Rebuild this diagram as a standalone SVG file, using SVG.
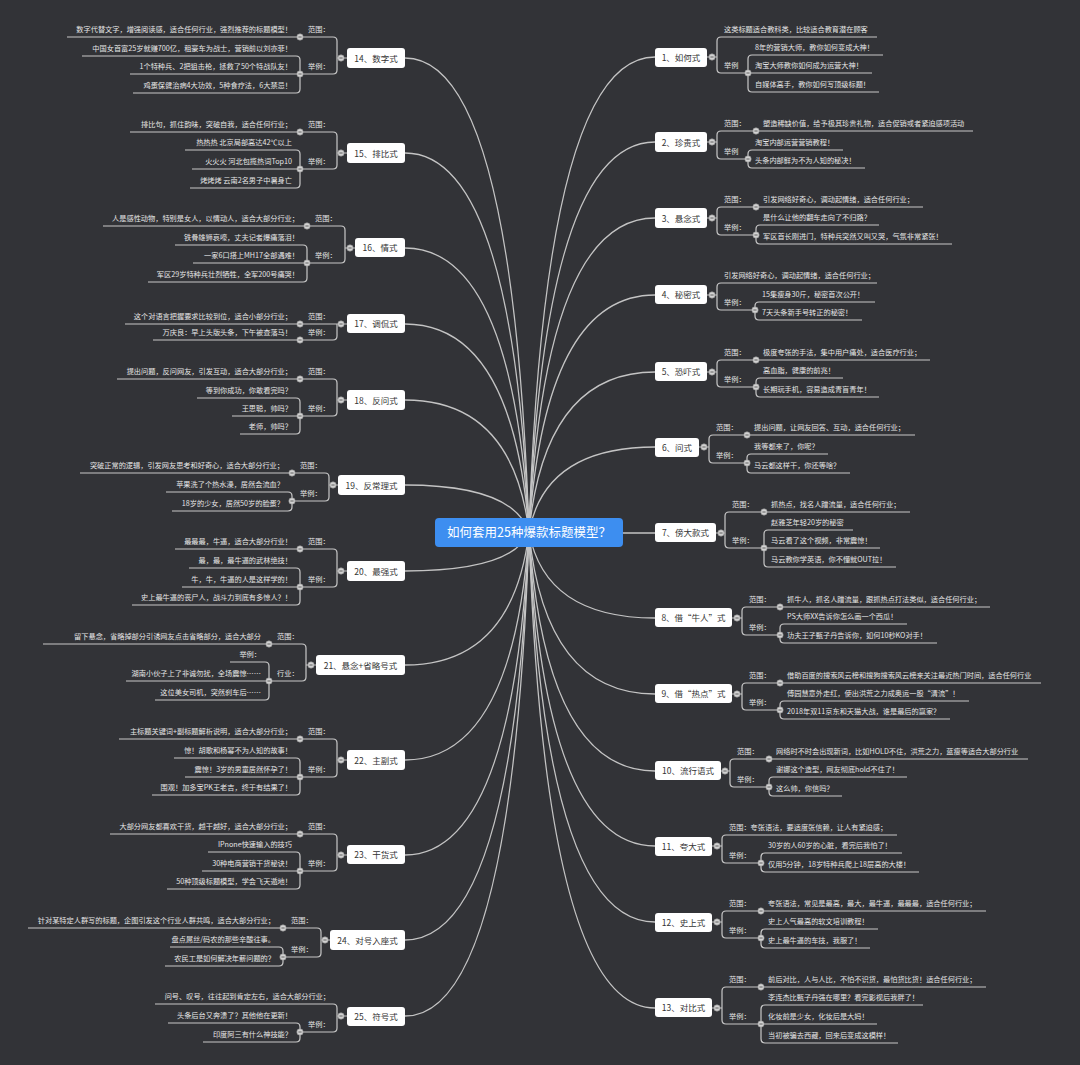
<svg xmlns="http://www.w3.org/2000/svg" xmlns:xlink="http://www.w3.org/1999/xlink" width="1080" height="1065" viewBox="0 0 1080 1065">
<defs>
<style>
.ln{fill:none;stroke:#c8c8c8;stroke-width:1.2}
.cn{fill:none;stroke:#c4c4c4;stroke-width:1.3}
.t{font-family:"Noto Sans CJK SC","Noto Sans",sans-serif;font-size:7.2px;fill:#e6e6e6}
.e{text-anchor:end}
.box{fill:#ffffff}
.bt{font-family:"Noto Sans CJK SC","Noto Sans",sans-serif;font-size:8.5px;fill:#333333;text-anchor:middle}
.ct{font-family:"Noto Sans CJK SC","Noto Sans",sans-serif;font-size:12.5px;fill:#ffffff;text-anchor:middle}
</style>
<g id="d"><circle r="3.2" fill="#d2d2d2" stroke="#8a8a8a" stroke-width="0.6"/><path d="M-1.6 0H1.6" stroke="#555" stroke-width="0.9"/></g>
</defs>
<rect width="1080" height="1065" fill="#323337"/>

<g id="connectors">
<path class="cn" d="M529 532 Q545 57 655 57"/>
<path class="cn" d="M529 532 Q545 142 655 142"/>
<path class="cn" d="M529 532 Q545 218 655 218"/>
<path class="cn" d="M529 532 Q545 295 655 295"/>
<path class="cn" d="M529 532 Q545 372 655 372"/>
<path class="cn" d="M529 532 Q545 447 655 447"/>
<path class="cn" d="M529 532 Q545 533 655 533"/>
<path class="cn" d="M529 532 Q545 618 655 618"/>
<path class="cn" d="M529 532 Q545 694 655 694"/>
<path class="cn" d="M529 532 Q545 771 655 771"/>
<path class="cn" d="M529 532 Q545 846 655 846"/>
<path class="cn" d="M529 532 Q545 922 655 922"/>
<path class="cn" d="M529 532 Q545 1008 655 1008"/>
<path class="cn" d="M529 532 Q513 58 405 58"/>
<path class="cn" d="M529 532 Q513 153 405 153"/>
<path class="cn" d="M529 532 Q513 248 405 248"/>
<path class="cn" d="M529 532 Q513 324 405 324"/>
<path class="cn" d="M529 532 Q513 400 405 400"/>
<path class="cn" d="M529 532 Q513 485 405 485"/>
<path class="cn" d="M529 532 Q513 571 405 571"/>
<path class="cn" d="M529 532 Q513 665 405 665"/>
<path class="cn" d="M529 532 Q513 760 405 760"/>
<path class="cn" d="M529 532 Q513 855 405 855"/>
<path class="cn" d="M529 532 Q513 940 405 940"/>
<path class="cn" d="M529 532 Q513 1016 405 1016"/>
</g>

<g id="center">
<rect x="435" y="518" width="188" height="29" rx="4" fill="#3d8ef0"/>
<text class="ct" x="529" y="537">如何套用25种爆款标题模型？</text>
</g>

<!-- right side -->
<g id="n1">
<path class="ln" d="M707 57H717 M717 57V41Q717 37 721 37H877 M717 57V69Q717 73 721 73H872 M748 73V59Q748 55 752 55H883 M748 73V88Q748 92 752 92H879"/>
<rect class="box" x="655" y="48" width="52" height="19" rx="3"/>
<text class="bt" x="681" y="60.5">1、如何式</text>
<text class="t" x="724" y="32">这类标题适合教科类，比较适合教育潜在顾客</text>
<text class="t" x="724" y="68">举例</text>
<text class="t" x="755" y="50">8年的营销大师，教你如何变成大神！</text>
<text class="t" x="755" y="68">淘宝大师教你如何成为运营大神！</text>
<text class="t" x="755" y="87">自媒体高手，教你如何写顶级标题！</text>
<use href="#d" x="712" y="57"/><use href="#d" x="748" y="73"/>
</g>

<g id="n2">
<path class="ln" d="M707 142H717 M717 142V135Q717 131 721 131H973 M717 142V155Q717 159 721 159H748 M748 159V154Q748 150 752 150H843 M748 159V164Q748 168 752 168H865"/>
<rect class="box" x="655" y="132" width="52" height="20" rx="3"/>
<text class="bt" x="681" y="145.5">2、珍贵式</text>
<text class="t" x="724" y="126">范围：</text>
<text class="t" x="763" y="126">塑造稀缺价值，给予极其珍贵礼物，适合促销或者紧迫感项活动</text>
<text class="t" x="724" y="154">举例</text>
<text class="t" x="755" y="145">淘宝内部运营营销教程！</text>
<text class="t" x="755" y="163">头条内部鲜为不为人知的秘决！</text>
<use href="#d" x="712" y="142"/><use href="#d" x="756" y="131"/><use href="#d" x="748" y="159"/>
</g>

<g id="n3">
<path class="ln" d="M707 218H717 M717 218V211Q717 207 721 207H923 M717 218V231Q717 235 721 235H756 M756 235V229Q756 225 760 225H879 M756 235V240Q756 244 760 244H952"/>
<rect class="box" x="655" y="208" width="52" height="20" rx="3"/>
<text class="bt" x="681" y="221.5">3、悬念式</text>
<text class="t" x="724" y="202">范围：</text>
<text class="t" x="763" y="202">引发网络好奇心，调动起情绪，适合任何行业；</text>
<text class="t" x="724" y="230">举例：</text>
<text class="t" x="763" y="220">是什么让他的翻车走向了不归路？</text>
<text class="t" x="763" y="239">军区首长刚进门，特种兵突然又叫又哭，气氛非常紧张！</text>
<use href="#d" x="712" y="218"/><use href="#d" x="756" y="207"/><use href="#d" x="756" y="235"/>
</g>

<g id="n4">
<path class="ln" d="M707 295H717 M717 295V287Q717 283 721 283H877 M717 295V306Q717 310 721 310H755 M755 310V306Q755 302 759 302H875 M755 310V316Q755 320 759 320H862"/>
<rect class="box" x="655" y="285" width="52" height="19" rx="3"/>
<text class="bt" x="681" y="298">4、秘密式</text>
<text class="t" x="724" y="278">引发网络好奇心，调动起情绪，适合任何行业；</text>
<text class="t" x="724" y="305">举例：</text>
<text class="t" x="762" y="297">15集瘦身30斤，秘密首次公开！</text>
<text class="t" x="762" y="315">7天头条新手号转正的秘密！</text>
<use href="#d" x="712" y="295"/><use href="#d" x="755" y="310"/>
</g>

<g id="n5">
<path class="ln" d="M707 372H717 M717 372V364Q717 360 721 360H930 M717 372V383Q717 387 721 387H756 M756 387V382Q756 378 760 378H843 M756 387V393Q756 397 760 397H879"/>
<rect class="box" x="655" y="362" width="52" height="19" rx="3"/>
<text class="bt" x="681" y="375">5、恐吓式</text>
<text class="t" x="724" y="355">范围：</text>
<text class="t" x="763" y="355">极度夸张的手法，集中用户痛处，适合医疗行业；</text>
<text class="t" x="724" y="382">举例：</text>
<text class="t" x="763" y="373">高血脂，健康的前兆！</text>
<text class="t" x="763" y="392">长期玩手机，容易造成青盲青年！</text>
<use href="#d" x="712" y="372"/><use href="#d" x="756" y="360"/><use href="#d" x="756" y="387"/>
</g>

<g id="n6">
<path class="ln" d="M699 447H709 M709 447V439Q709 435 713 435H915 M709 447V459Q709 463 713 463H747 M747 463V458Q747 454 751 454H828 M747 463V469Q747 473 751 473H850"/>
<rect class="box" x="655" y="438" width="44" height="19" rx="3"/>
<text class="bt" x="677" y="450.5">6、问式</text>
<text class="t" x="716" y="430">范围：</text>
<text class="t" x="754" y="430">提出问题，让网友回答、互动，适合任何行业；</text>
<text class="t" x="716" y="458">举例：</text>
<text class="t" x="754" y="449">我等都来了，你呢？</text>
<text class="t" x="754" y="468">马云都这样干，你还等啥？</text>
<use href="#d" x="704" y="447"/><use href="#d" x="747" y="435"/><use href="#d" x="747" y="463"/>
</g>

<g id="n7">
<path class="ln" d="M716 533H725 M725 533V516Q725 512 729 512H910 M725 533V544Q725 548 729 548H880 M764 548V534Q764 530 768 530H853 M764 548V563Q764 567 768 567H896"/>
<rect class="box" x="655" y="523" width="61" height="19" rx="3"/>
<text class="bt" x="685.5" y="536">7、傍大款式</text>
<text class="t" x="732" y="507">范围：</text>
<text class="t" x="771" y="507">抓热点，找名人蹭流量，适合任何行业；</text>
<text class="t" x="732" y="543">举例：</text>
<text class="t" x="771" y="525">赵雅芝年轻20岁的秘密</text>
<text class="t" x="771" y="543">马云看了这个视频，非常震惊！</text>
<text class="t" x="771" y="562">马云教你学英语，你不懂就OUT拉！</text>
<use href="#d" x="721" y="533"/><use href="#d" x="764" y="512"/><use href="#d" x="764" y="548"/>
</g>

<g id="n8">
<path class="ln" d="M732 618H742 M742 618V611Q742 607 746 607H990 M742 618V631Q742 635 746 635H780 M780 635V628Q780 624 784 624H907 M780 635V639Q780 643 784 643H937"/>
<rect class="box" x="655" y="608" width="77" height="19" rx="3"/>
<text class="bt" x="693.5" y="621">8、借“牛人”式</text>
<text class="t" x="749" y="602">范围：</text>
<text class="t" x="787" y="602">抓牛人，抓名人蹭流量，跟抓热点打法类似，适合任何行业；</text>
<text class="t" x="749" y="630">举例：</text>
<text class="t" x="787" y="619">PS大师XX告诉你怎么画一个西瓜！</text>
<text class="t" x="787" y="638">功夫王子甄子丹告诉你，如何10秒KO对手！</text>
<use href="#d" x="737" y="618"/><use href="#d" x="780" y="607"/><use href="#d" x="780" y="635"/>
</g>

<g id="n9">
<path class="ln" d="M732 694H742 M742 694V687Q742 683 746 683H1041 M742 694V706Q742 710 746 710H780 M780 710V705Q780 701 784 701H969 M780 710V715Q780 719 784 719H950"/>
<rect class="box" x="655" y="684" width="77" height="19" rx="3"/>
<text class="bt" x="693.5" y="697">9、借“热点”式</text>
<text class="t" x="749" y="678">范围：</text>
<text class="t" x="787" y="678">借助百度的搜索风云榜和搜狗搜索风云榜来关注最近热门时间，适合任何行业</text>
<text class="t" x="749" y="705">举例：</text>
<text class="t" x="787" y="696">傅园慧意外走红，使出洪荒之力成奥运一股“清流”！</text>
<text class="t" x="787" y="714">2018年双11京东和天猫大战，谁是最后的赢家？</text>
<use href="#d" x="737" y="694"/><use href="#d" x="780" y="683"/><use href="#d" x="780" y="710"/>
</g>

<g id="n10">
<path class="ln" d="M721 771H730 M730 771V763Q730 759 734 759H1028 M730 771V783Q730 787 734 787H769 M769 787V781Q769 777 773 777H907 M769 787V792Q769 796 773 796H842"/>
<rect class="box" x="655" y="761" width="66" height="19" rx="3"/>
<text class="bt" x="688" y="774">10、流行语式</text>
<text class="t" x="737" y="754">范围：</text>
<text class="t" x="776" y="754">网络时不时会出现新词，比如HOLD不住，洪荒之力，蓝瘦等适合大部分行业</text>
<text class="t" x="737" y="782">举例：</text>
<text class="t" x="776" y="772">谢娜这个造型，网友彻底hold不住了！</text>
<text class="t" x="776" y="791">这么帅，你信吗？</text>
<use href="#d" x="725" y="771"/><use href="#d" x="769" y="759"/><use href="#d" x="769" y="787"/>
</g>

<g id="n11">
<path class="ln" d="M712 846H722 M722 846V839Q722 835 726 835H897 M722 846V859Q722 863 726 863H761 M761 863V857Q761 853 765 853H902 M761 863V868Q761 872 765 872H919"/>
<rect class="box" x="655" y="837" width="57" height="19" rx="3"/>
<text class="bt" x="683.5" y="849.5">11、夸大式</text>
<text class="t" x="729" y="830">范围：夸张语法，要适度张信赖，让人有紧迫感；</text>
<text class="t" x="729" y="858">举例：</text>
<text class="t" x="768" y="848">30岁的人60岁的心脏，看完后我怕了！</text>
<text class="t" x="768" y="867">仅用5分钟，18岁特种兵爬上18层高的大楼！</text>
<use href="#d" x="717" y="846"/><use href="#d" x="761" y="863"/>
</g>

<g id="n12">
<path class="ln" d="M712 922H722 M722 922V915Q722 911 726 911H986 M722 922V934Q722 938 726 938H761 M761 938V933Q761 929 765 929H878 M761 938V944Q761 948 765 948H870"/>
<rect class="box" x="655" y="913" width="57" height="19" rx="3"/>
<text class="bt" x="683.5" y="925.5">12、史上式</text>
<text class="t" x="729" y="906">范围：</text>
<text class="t" x="768" y="906">夸张语法，常见是最高，最大，最牛逼，最最最，适合任何行业；</text>
<text class="t" x="729" y="933">举例：</text>
<text class="t" x="768" y="924">史上人气最高的软文培训教程！</text>
<text class="t" x="768" y="943">史上最牛逼的车技，我服了！</text>
<use href="#d" x="717" y="922"/><use href="#d" x="761" y="911"/><use href="#d" x="761" y="938"/>
</g>

<g id="n13">
<path class="ln" d="M712 1008H722 M722 1008V991Q722 987 726 987H986 M722 1008V1020Q722 1024 726 1024H877 M761 1024V1009Q761 1005 765 1005H923 M761 1024V1039Q761 1043 765 1043H898"/>
<rect class="box" x="655" y="998" width="57" height="19" rx="3"/>
<text class="bt" x="683.5" y="1011">13、对比式</text>
<text class="t" x="729" y="982">范围：</text>
<text class="t" x="768" y="982">前后对比，人与人比，不怕不识货，最怕货比货！适合任何行业；</text>
<text class="t" x="729" y="1019">举例：</text>
<text class="t" x="768" y="1000">李连杰比甄子丹强在哪里？看完影视后我胖了！</text>
<text class="t" x="768" y="1019">化妆前是少女，化妆后是大妈！</text>
<text class="t" x="768" y="1038">当初被骗去西藏，回来后变成这模样！</text>
<use href="#d" x="717" y="1008"/><use href="#d" x="761" y="987"/><use href="#d" x="761" y="1024"/>
</g>

<!-- left side -->
<g id="n14">
<path class="ln" d="M347 58H337 M337 58V41Q337 37 333 37H67 M337 58V70Q337 74 333 74H130 M300 74V60Q300 56 296 56H82 M300 74V89Q300 93 296 93H133"/>
<rect class="box" x="347" y="48" width="58" height="20" rx="3"/>
<text class="bt" x="376" y="61.5">14、数字式</text>
<text class="t" x="308" y="32">范围：</text>
<text class="t e" x="292" y="32">数字代替文字，增强阅读感，适合任何行业，强烈推荐的标题模型！</text>
<text class="t" x="308" y="69">举例：</text>
<text class="t e" x="292" y="51">中国女首富25岁就赚700亿，租豪车为战士，营销前以刘亦菲！</text>
<text class="t e" x="292" y="69">1个特种兵、2把狙击枪，拯救了50个特战队友！</text>
<text class="t e" x="292" y="88">鸡蛋保健治病4大功效，5种食疗法，6大禁忌！</text>
<use href="#d" x="341" y="58"/><use href="#d" x="300" y="37"/><use href="#d" x="300" y="74"/>
</g>

<g id="n15">
<path class="ln" d="M347 153H337 M337 153V136Q337 132 333 132H130 M337 153V165Q337 169 333 169H192 M300 169V154Q300 150 296 150H185 M300 169V184Q300 188 296 188H190"/>
<rect class="box" x="347" y="143" width="58" height="20" rx="3"/>
<text class="bt" x="376" y="156.5">15、排比式</text>
<text class="t" x="308" y="127">范围：</text>
<text class="t e" x="292" y="127">排比句，抓住韵味，突破自我，适合任何行业；</text>
<text class="t" x="308" y="164">举例：</text>
<text class="t e" x="292" y="145">热热热 北京局部高达42℃以上</text>
<text class="t e" x="292" y="164">火火火 河北包揽热词Top10</text>
<text class="t e" x="292" y="183">烤烤烤 云南2名男子中暑身亡</text>
<use href="#d" x="341" y="153"/><use href="#d" x="300" y="132"/><use href="#d" x="300" y="169"/>
</g>

<g id="n16">
<path class="ln" d="M355 248H345 M345 248V230Q345 226 341 226H103 M345 248V259Q345 263 341 263H193 M307 263V249Q307 245 303 245H175 M307 263V278Q307 282 303 282H148"/>
<rect class="box" x="355" y="238" width="50" height="19" rx="3"/>
<text class="bt" x="380" y="251">16、情式</text>
<text class="t" x="315" y="221">范围：</text>
<text class="t e" x="299" y="221">人是感性动物，特别是女人，以情动人，适合大部分行业；</text>
<text class="t" x="315" y="258">举例：</text>
<text class="t e" x="299" y="240">铁骨雄狮哀嚎，丈夫记者爆痛落泪！</text>
<text class="t e" x="299" y="258">一家6口搭上MH17全部遇难！</text>
<text class="t e" x="299" y="277">军区29岁特种兵壮烈牺牲，全军200号痛哭！</text>
<use href="#d" x="350" y="248"/><use href="#d" x="307" y="226"/><use href="#d" x="307" y="263"/>
</g>

<g id="n17">
<path class="ln" d="M347 324H125 M337 324V336Q337 340 333 340H153"/>
<rect class="box" x="347" y="314" width="58" height="19" rx="3"/>
<text class="bt" x="376" y="327">17、调侃式</text>
<text class="t" x="308" y="319">范围：</text>
<text class="t e" x="292" y="319">这个对语言把握要求比较到位，适合小部分行业；</text>
<text class="t" x="308" y="335">举例：</text>
<text class="t e" x="292" y="335">万庆良：早上头版头条，下午被查落马！</text>
<use href="#d" x="341" y="324"/><use href="#d" x="300" y="324"/><use href="#d" x="300" y="340"/>
</g>

<g id="n18">
<path class="ln" d="M347 400H337 M337 400V383Q337 379 333 379H117 M337 400V412Q337 416 333 416H232 M300 416V402Q300 398 296 398H197 M300 416V430Q300 434 296 434H240"/>
<rect class="box" x="347" y="390" width="58" height="20" rx="3"/>
<text class="bt" x="376" y="403.5">18、反问式</text>
<text class="t" x="308" y="374">范围：</text>
<text class="t e" x="292" y="374">提出问题，反问网友，引发互动，适合大部分行业；</text>
<text class="t" x="308" y="411">举例：</text>
<text class="t e" x="292" y="393">等到你成功，你敢看完吗？</text>
<text class="t e" x="292" y="411">王思聪，帅吗？</text>
<text class="t e" x="292" y="429">老师，帅吗？</text>
<use href="#d" x="341" y="400"/><use href="#d" x="300" y="379"/><use href="#d" x="300" y="416"/>
</g>

<g id="n19">
<path class="ln" d="M338 485H329 M329 485V477Q329 473 325 473H80 M329 485V497Q329 501 325 501H292 M292 501V496Q292 492 288 492H166 M292 501V507Q292 511 288 511H172"/>
<rect class="box" x="338" y="475" width="67" height="20" rx="3"/>
<text class="bt" x="371.5" y="488.5">19、反常理式</text>
<text class="t" x="300" y="468">范围：</text>
<text class="t e" x="284" y="468">突破正常的逻辑，引发网友思考和好奇心，适合大部分行业；</text>
<text class="t" x="300" y="496">举例：</text>
<text class="t e" x="284" y="487">苹果洗了个热水澡，居然会流血？</text>
<text class="t e" x="284" y="506">18岁的少女，居然50岁的脸蛋？</text>
<use href="#d" x="333" y="485"/><use href="#d" x="292" y="473"/><use href="#d" x="292" y="501"/>
</g>

<g id="n20">
<path class="ln" d="M347 571H337 M337 571V553Q337 549 333 549H175 M337 571V583Q337 587 333 587H182 M300 587V572Q300 568 296 568H189 M300 587V601Q300 605 296 605H132"/>
<rect class="box" x="347" y="561" width="58" height="20" rx="3"/>
<text class="bt" x="376" y="574.5">20、最强式</text>
<text class="t" x="308" y="544">范围：</text>
<text class="t e" x="292" y="544">最最最，牛逼，适合大部分行业！</text>
<text class="t" x="308" y="582">举例：</text>
<text class="t e" x="292" y="563">最，最，最牛逼的武林绝技！</text>
<text class="t e" x="292" y="582">牛，牛，牛逼的人是这样学的！</text>
<text class="t e" x="292" y="600">史上最牛逼的丧尸人，战斗力到底有多惊人？！</text>
<use href="#d" x="341" y="571"/><use href="#d" x="300" y="549"/><use href="#d" x="300" y="587"/>
</g>

<g id="n21">
<path class="ln" d="M316 665H306 M306 665V648Q306 644 302 644H43 M306 665V677Q306 681 302 681H126 M269 681V666Q269 662 265 662H230 M269 681V696Q269 700 265 700H155"/>
<rect class="box" x="316" y="655" width="89" height="20" rx="3"/>
<text class="bt" x="360.5" y="668.5">21、悬念+省略号式</text>
<text class="t" x="277" y="639">范围：</text>
<text class="t e" x="261" y="639">留下悬念，省略掉部分引诱网友点击省略部分，适合大部分</text>
<text class="t" x="277" y="676">行业：</text>
<text class="t e" x="261" y="657">举例：</text>
<text class="t e" x="261" y="676">湖南小伙子上了非诚勿扰，全场震惊……</text>
<text class="t e" x="261" y="695">这位美女司机，突然刹车后……</text>
<use href="#d" x="311" y="665"/><use href="#d" x="269" y="644"/><use href="#d" x="269" y="681"/>
</g>

<g id="n22">
<path class="ln" d="M347 760H337 M337 760V743Q337 739 333 739H119 M337 760V773Q337 777 333 777H185 M300 777V762Q300 758 296 758H174 M300 777V791Q300 795 296 795H152"/>
<rect class="box" x="347" y="750" width="58" height="20" rx="3"/>
<text class="bt" x="376" y="763.5">22、主副式</text>
<text class="t" x="308" y="734">范围：</text>
<text class="t e" x="292" y="734">主标题关键词+副标题解析说明，适合大部分行业；</text>
<text class="t" x="308" y="772">举例：</text>
<text class="t e" x="292" y="753">惊！胡歌和杨幂不为人知的故事！</text>
<text class="t e" x="292" y="772">震惊！3岁的男童居然怀孕了！</text>
<text class="t e" x="292" y="790">围观！加多宝PK王老吉，终于有结果了！</text>
<use href="#d" x="341" y="760"/><use href="#d" x="300" y="739"/><use href="#d" x="300" y="777"/>
</g>

<g id="n23">
<path class="ln" d="M347 855H337 M337 855V838Q337 834 333 834H110 M337 855V867Q337 871 333 871H202 M300 871V856Q300 852 296 852H208 M300 871V885Q300 889 296 889H167"/>
<rect class="box" x="347" y="845" width="58" height="19" rx="3"/>
<text class="bt" x="376" y="858">23、干货式</text>
<text class="t" x="308" y="829">范围：</text>
<text class="t e" x="292" y="829">大部分网友都喜欢干货，越干越好，适合大部分行业；</text>
<text class="t" x="308" y="866">举例：</text>
<text class="t e" x="292" y="847">IPnone快速输入的技巧</text>
<text class="t e" x="292" y="866">30种电商营销干货秘诀！</text>
<text class="t e" x="292" y="884">50种顶级标题模型，学会飞天遁地！</text>
<use href="#d" x="341" y="855"/><use href="#d" x="300" y="834"/><use href="#d" x="300" y="871"/>
</g>

<g id="n24">
<path class="ln" d="M330 940H321 M321 940V932Q321 928 317 928H28 M321 940V953Q321 957 317 957H283 M283 957V951Q283 947 279 947H170 M283 957V962Q283 966 279 966H165"/>
<rect class="box" x="330" y="930" width="75" height="20" rx="3"/>
<text class="bt" x="367.5" y="943.5">24、对号入座式</text>
<text class="t" x="291" y="923">范围：</text>
<text class="t e" x="275" y="923">针对某特定人群写的标题，企图引发这个行业人群共鸣，适合大部分行业；</text>
<text class="t" x="291" y="952">举例：</text>
<text class="t e" x="275" y="942">盘点屌丝/码农的那些辛酸往事。</text>
<text class="t e" x="275" y="961">农民工是如何解决年薪问题的？</text>
<use href="#d" x="325" y="940"/><use href="#d" x="283" y="928"/><use href="#d" x="283" y="957"/>
</g>

<g id="n25">
<path class="ln" d="M347 1016H337 M337 1016V1008Q337 1004 333 1004H155 M337 1016V1028Q337 1032 333 1032H300 M300 1032V1027Q300 1023 296 1023H168 M300 1032V1038Q300 1042 296 1042H203"/>
<rect class="box" x="347" y="1007" width="58" height="19" rx="3"/>
<text class="bt" x="376" y="1019.5">25、符号式</text>
<text class="t e" x="330" y="999">问号、叹号，往往起到肯定左右，适合大部分行业；</text>
<text class="t" x="308" y="1027">举例：</text>
<text class="t e" x="292" y="1018">头条后台又奔溃了？其他他在更新！</text>
<text class="t e" x="292" y="1037">印度阿三有什么神技能？</text>
<use href="#d" x="341" y="1016"/><use href="#d" x="300" y="1032"/>
</g>
</svg>
